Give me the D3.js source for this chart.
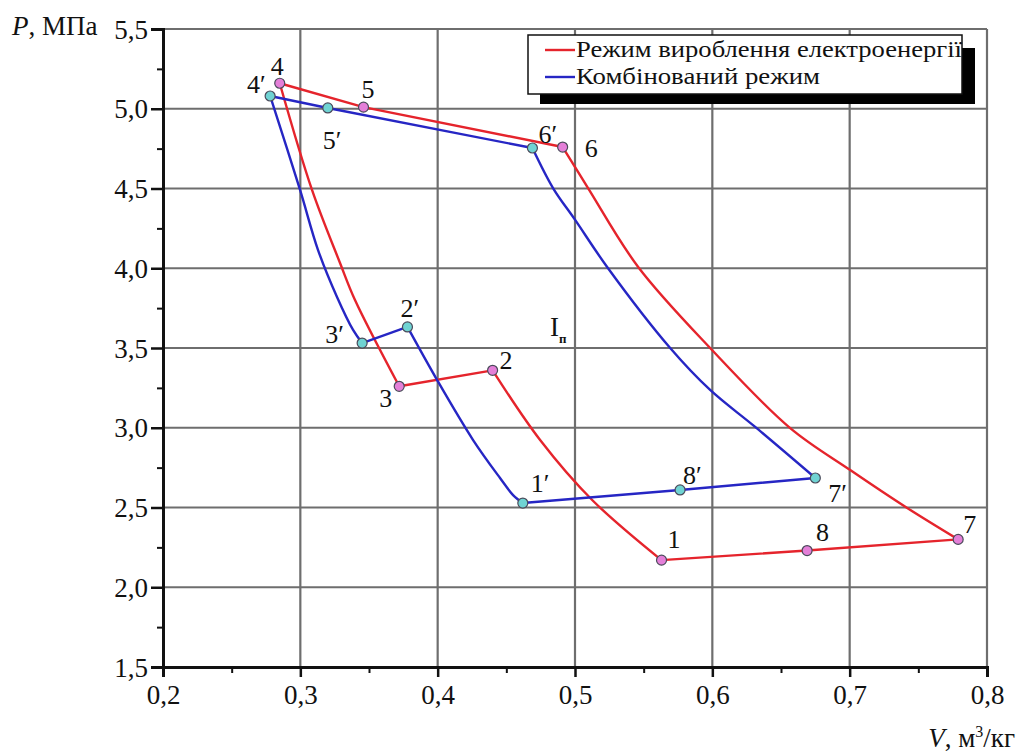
<!DOCTYPE html>
<html><head><meta charset="utf-8">
<script src="https://cdn.jsdelivr.net/npm/d3@7"></script>
<style>
html,body{margin:0;padding:0;background:#fff;}
svg text{font-family:"Liberation Serif","Times New Roman",serif;fill:#111;}
</style></head>
<body><svg id="chart" width="1020" height="753"></svg>
<script>
// ---------- DATA ----------
const xTicks = [0.2, 0.3, 0.4, 0.5, 0.6, 0.7, 0.8];
const yTicks = [1.5, 2.0, 2.5, 3.0, 3.5, 4.0, 4.5, 5.0, 5.5];
const xMinor = [0.25, 0.35, 0.45, 0.55, 0.65, 0.75];
const yMinor = [1.75, 2.25, 2.75, 3.25, 3.75, 4.25, 4.75, 5.25];

// key points (V, P) — mode "electricity generation"
const redLabels = ["1", "2", "3", "4", "5", "6", "7", "8"];
const redV = [0.563, 0.440, 0.372, 0.285, 0.346, 0.491, 0.779, 0.669];
const redP = [2.17, 3.36, 3.26, 5.16, 5.01, 4.76, 2.30, 2.23];
// intermediate points
const redCompV = [0.563, 0.5125, 0.4746, 0.440];        // 1 -> 2
const redCompP = [2.17, 2.547, 2.923, 3.36];
const redRiseV = [0.372, 0.3398, 0.3289, 0.3085, 0.285]; // 3 -> 4
const redRiseP = [3.26, 3.801, 4.033, 4.491, 5.16];
const redExpV = [0.491, 0.5095, 0.546, 0.5984, 0.6567, 0.7004, 0.7419, 0.779]; // 6 -> 7
const redExpP = [4.76, 4.503, 4.008, 3.50, 2.998, 2.735, 2.497, 2.30];

// key points — combined mode
const blueLabels = ["1′", "2′", "3′", "4′", "5′", "6′", "7′", "8′"];
const blueV = [0.462, 0.378, 0.345, 0.278, 0.320, 0.469, 0.675, 0.5765];
const blueP = [2.528, 3.632, 3.531, 5.08, 5.005, 4.754, 2.685, 2.61];
const blueCompV = [0.462, 0.4549, 0.4454, 0.4258, 0.3996, 0.378]; // 1' -> 2'
const blueCompP = [2.528, 2.578, 2.685, 2.923, 3.299, 3.632];
const blueRiseV = [0.345, 0.3384, 0.3267, 0.3129, 0.2998, 0.278]; // 3' -> 4'
const blueRiseP = [3.531, 3.613, 3.820, 4.114, 4.491, 5.08];
const blueExpV = [0.469, 0.484, 0.5001, 0.5234, 0.5693, 0.5984, 0.6312, 0.675]; // 6' -> 7'
const blueExpP = [4.754, 4.503, 4.303, 4.008, 3.50, 3.237, 3.005, 2.685];

const legendLabels = ["Режим вироблення електроенергії", "Комбінований режим"];
const regionLabel = "I";
const regionSub = "п";

// ---------- LAYOUT ----------
const svg = d3.select("#chart");
const x = d3.scaleLinear().domain([0.2, 0.8]).range([163, 987]);
const y = d3.scaleLinear().domain([1.5, 5.5]).range([667, 29]);
const fmt = v => d3.format(".1f")(v).replace(".", ",");
const SERIF = '"Liberation Serif","Times New Roman",serif';

const RED = "#e5242c", BLUE = "#2626c4";
const RED_MK = "#e47fd8", BLUE_MK = "#6fd3d3";

// grid
const grid = svg.append("g");
grid.selectAll("line.vx").data(xTicks.slice(1)).join("line")
  .attr("x1", d => x(d)).attr("x2", d => x(d)).attr("y1", y(5.5)).attr("y2", y(1.5))
  .attr("stroke", "#6e6e6e").attr("stroke-width", 2.2);
grid.selectAll("line.hy").data(yTicks.slice(1)).join("line")
  .attr("x1", x(0.2)).attr("x2", x(0.8)).attr("y1", d => y(d)).attr("y2", d => y(d))
  .attr("stroke", "#6e6e6e").attr("stroke-width", 2.2);

// axes
const xAxis = d3.axisBottom(x).tickValues(xTicks).tickFormat(fmt).tickSize(10).tickPadding(8);
const yAxis = d3.axisLeft(y).tickValues(yTicks).tickFormat(fmt).tickSize(12).tickPadding(3);
const gx = svg.append("g").attr("transform", `translate(0,${y(1.5)})`).call(xAxis);
const gy = svg.append("g").attr("transform", `translate(${x(0.2)},0)`).call(yAxis);
[gx, gy].forEach(g => {
  g.attr("font-family", SERIF);
  g.select(".domain").attr("stroke", "#111").attr("stroke-width", 3);
  g.selectAll(".tick line").attr("stroke", "#111").attr("stroke-width", 2.5);
  g.selectAll(".tick text").attr("font-size", 27).attr("fill", "#111").attr("font-family", SERIF);
});
gy.selectAll(".tick text").attr("dy", "0.34em");
svg.append("g").attr("transform", `translate(0,${y(1.5)})`)
  .call(d3.axisBottom(x).tickValues(xMinor).tickFormat("").tickSize(6))
  .call(g => { g.select(".domain").remove(); g.selectAll("line").attr("stroke", "#111").attr("stroke-width", 2); });
svg.append("g").attr("transform", `translate(${x(0.2)},0)`)
  .call(d3.axisLeft(y).tickValues(yMinor).tickFormat("").tickSize(6))
  .call(g => { g.select(".domain").remove(); g.selectAll("line").attr("stroke", "#111").attr("stroke-width", 2); });

// axis titles
svg.append("text").attr("x", 12).attr("y", 35).attr("font-size", 27)
  .html('<tspan font-style="italic">P</tspan>, МПа');
svg.append("text").attr("x", 1015).attr("y", 747).attr("font-size", 27).attr("text-anchor", "end")
  .html('<tspan font-style="italic">V</tspan>, м<tspan font-size="16" dy="-10">3</tspan><tspan dy="10">/кг</tspan>');

// cycles
const zip = (vs, ps) => vs.map((v, i) => [v, ps[i]]);
const lin = d3.line().x(d => x(d[0])).y(d => y(d[1]));
const smooth = d3.line().x(d => x(d[0])).y(d => y(d[1])).curve(d3.curveCatmullRom.alpha(0.5));

function drawCycle(V, P, compV, compP, riseV, riseP, expV, expP, color) {
  const g = svg.append("g").attr("fill", "none").attr("stroke", color).attr("stroke-width", 2.4)
    .attr("stroke-linejoin", "round");
  const k = zip(V, P);
  g.append("path").attr("d", smooth(zip(compV, compP)));              // 1 -> 2
  g.append("path").attr("d", lin([k[1], k[2]]));                      // 2 -> 3
  g.append("path").attr("d", smooth(zip(riseV, riseP)));              // 3 -> 4
  g.append("path").attr("d", lin([k[3], k[4], k[5]]));                // 4 -> 5 -> 6
  g.append("path").attr("d", smooth(zip(expV, expP)));                // 6 -> 7
  g.append("path").attr("d", lin([k[6], k[7], k[0]]));                // 7 -> 8 -> 1
}
drawCycle(redV, redP, redCompV, redCompP, redRiseV, redRiseP, redExpV, redExpP, RED);
drawCycle(blueV, blueP, blueCompV, blueCompP, blueRiseV, blueRiseP, blueExpV, blueExpP, BLUE);

function drawMarkers(V, P, fill) {
  svg.append("g").selectAll("circle").data(zip(V, P)).join("circle")
    .attr("cx", d => x(d[0])).attr("cy", d => y(d[1])).attr("r", 5)
    .attr("fill", fill).attr("stroke", "#4a4a5a").attr("stroke-width", 1.2);
}
drawMarkers(redV, redP, RED_MK);
drawMarkers(blueV, blueP, BLUE_MK);

// point labels (offsets in px from marker)
const redOff = [[6, -12], [7, -1], [-20, 21], [-9, -8], [-2, -9], [22, 10], [5, -6], [9, -10]];
const blueOff = [[8, -11], [-7, -10], [-37, 0], [-23, -3], [-5, 41], [6, -5], [13, 24], [3, -6]];
function drawLabels(V, P, labels, off) {
  svg.append("g").selectAll("text").data(labels).join("text")
    .attr("x", (d, i) => x(V[i]) + off[i][0]).attr("y", (d, i) => y(P[i]) + off[i][1])
    .attr("font-size", 26).text(d => d);
}
drawLabels(redV, redP, redLabels, redOff);
drawLabels(blueV, blueP, blueLabels, blueOff);

// region label
const rl = svg.append("text").attr("x", 550).attr("y", 336).attr("font-size", 27);
rl.append("tspan").text(regionLabel);
rl.append("tspan").attr("font-size", 13).attr("font-weight", "bold").attr("dy", 7).text(regionSub);

// legend
const lg = svg.append("g");
lg.append("rect").attr("x", 540).attr("y", 48).attr("width", 435).attr("height", 56).attr("fill", "#000");
lg.append("rect").attr("x", 528).attr("y", 35).attr("width", 434).attr("height", 59)
  .attr("fill", "#fff").attr("stroke", "#111").attr("stroke-width", 1.5);
const legendWidths = [386, 244];
[RED, BLUE].forEach((c, i) => {
  const yy = 50 + i * 27;
  lg.append("line").attr("x1", 545).attr("x2", 575).attr("y1", yy).attr("y2", yy)
    .attr("stroke", c).attr("stroke-width", 2.4);
  lg.append("text").attr("x", 576).attr("y", yy + 7).attr("font-size", 23)
    .attr("textLength", legendWidths[i]).attr("lengthAdjust", "spacingAndGlyphs")
    .text(legendLabels[i]);
});
</script></body></html>
